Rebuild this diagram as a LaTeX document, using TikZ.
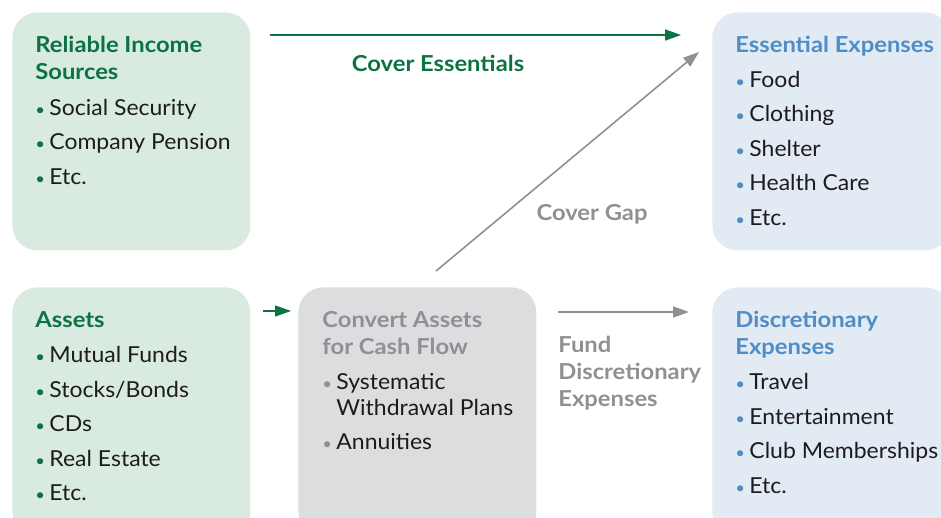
\documentclass[tikz,border=0pt]{standalone}
\usepackage{fontspec}
\setmainfont{Lato}[FakeStretch=1.045]
\newfontfamily\hdfont{Lato}[FakeStretch=1.08]
\usepackage{xcolor}
\usetikzlibrary{arrows.meta}

\definecolor{incgreen}{HTML}{0B7342}
\definecolor{incfill}{HTML}{D9EBE1}
\definecolor{flowgrey}{HTML}{8F9093}
\definecolor{cnvfill}{HTML}{DCDDDF}
\definecolor{expblue}{HTML}{4E8DC6}
\definecolor{expfill}{HTML}{E2EAF4}
\definecolor{body}{HTML}{1E1B1C}

% heading line, bullet item, continued item line
\newcommand{\hd}[2]{{\hdfont\bfseries\color{#1}#2}}
\newcommand{\itm}[2]{\makebox[7pt][l]{\color{#1}\footnotesize\textbullet}#2}
\newcommand{\cnt}[1]{\hspace*{7pt}#1}

\begin{document}
\begin{tikzpicture}[
        x=0.5pt, y=-0.5pt,
        panel/.style = {rounded corners=12.5pt, anchor=north west, inner sep=0pt,
                        minimum width=119pt, minimum height=119pt},
        txt/.style   = {anchor=north west, inner sep=0pt, align=left, text=body,
                        font=\fontsize{11}{13.5}\selectfont},
        lbl/.style   = {inner sep=0pt, align=left, font=\fontsize{11}{13.5}\selectfont\hdfont\bfseries},
        flow/.style  = {line width=0.8pt, -{Triangle[length=8pt,width=5.5pt]}}
    ]
    \useasboundingbox (0,0) rectangle (941,518);
    \clip (0,0) rectangle (941,518);

    % the five panels
    \node[panel, fill=incfill] (inc) at (12,12) {};
    \node[panel, fill=incfill, minimum height=125pt] (ast) at (12,287) {};
    \node[panel, fill=cnvfill, minimum height=125pt] (cnv) at (298,287) {};
    \node[panel, fill=expfill] (ess) at (712,12) {};
    \node[panel, fill=expfill, minimum height=125pt] (dis) at (712,287) {};

    % panel texts
    \node[txt] (inc text) at ([shift={(23,24)}]inc.north west) {%
        \hd{incgreen}{Reliable Income}\\
        \hd{incgreen}{Sources}\\[4.3pt]
        \itm{incgreen}{Social Security}\\[3.75pt]
        \itm{incgreen}{Company Pension}\\[3.75pt]
        \itm{incgreen}{Etc.}};
    \node[txt] (ast text) at ([shift={(23,24)}]ast.north west) {%
        \hd{incgreen}{Assets}\\[4.25pt]
        \itm{incgreen}{Mutual Funds}\\[3.75pt]
        \itm{incgreen}{Stocks/Bonds}\\[3.75pt]
        \itm{incgreen}{CDs}\\[3.75pt]
        \itm{incgreen}{Real Estate}\\[3.75pt]
        \itm{incgreen}{Etc.}};
    \node[txt] (cnv text) at ([shift={(24,24)}]cnv.north west) {%
        \hd{flowgrey}{Convert Assets}\\
        \hd{flowgrey}{for Cash Flow}\\[4pt]
        \itm{flowgrey}{Systematic}\\[-0.5pt]
        \cnt{Withdrawal Plans}\\[3.75pt]
        \itm{flowgrey}{Annuities}};
    \node[txt] (ess text) at ([shift={(23,24)}]ess.north west) {%
        \hd{expblue}{Essential Expenses}\\[3.75pt]
        \itm{expblue}{Food}\\[3.75pt]
        \itm{expblue}{Clothing}\\[3.75pt]
        \itm{expblue}{Shelter}\\[3.75pt]
        \itm{expblue}{Health Care}\\[3.75pt]
        \itm{expblue}{Etc.}};
    \node[txt] (dis text) at ([shift={(23,24)}]dis.north west) {%
        \hd{expblue}{Discretionary}\\
        \hd{expblue}{Expenses}\\[4pt]
        \itm{expblue}{Travel}\\[3.75pt]
        \itm{expblue}{Entertainment}\\[3.75pt]
        \itm{expblue}{Club Memberships}\\[3.75pt]
        \itm{expblue}{Etc.}};

    % arrow ends
    \coordinate (ce from) at (270,35);
    \coordinate (ce to)   at (681,35);
    \coordinate (gap from) at (436,271);
    \coordinate (gap to)   at (699,52);
    \coordinate (ast out) at (263,311);
    \coordinate (cnv in)  at (291,311);
    \coordinate (fd from) at (558,312);
    \coordinate (fd to)   at (689,312);

    \draw[flow, incgreen] (ce from) -- (ce to);
    \draw[flow, flowgrey] (gap from) -- (gap to);
    \draw[flow, incgreen] (ast out) -- (cnv in);
    \draw[flow, flowgrey] (fd from) -- (fd to);

    % arrow labels
    \node[lbl, text=incgreen] (ce lbl) at (438,63) {Cover Essentials};
    \node[lbl, text=flowgrey] (gap lbl) at (592,214) {Cover Gap};
    \node[lbl, text=flowgrey, anchor=north west] (fd lbl) at (558,336) {Fund\\Discretionary\\Expenses};
\end{tikzpicture}
\end{document}
